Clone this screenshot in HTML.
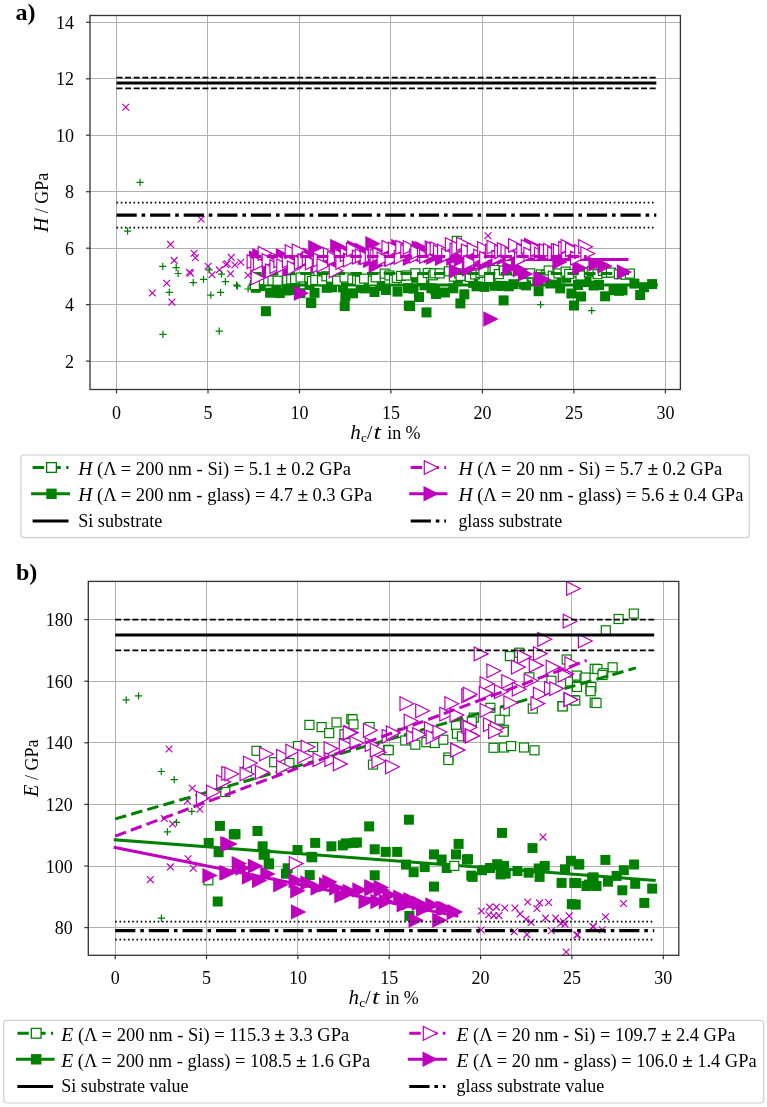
<!DOCTYPE html><html><head><meta charset="utf-8"><style>html,body{margin:0;padding:0;background:#fff;}svg{display:block;will-change:transform;}</style></head><body><svg width="767" height="1107" viewBox="0 0 767 1107" font-family="'Liberation Serif', serif" font-size="18" fill="#000">
<defs>
<path id="mx" d="M-3.4-3.4L3.4 3.4M-3.4 3.4L3.4-3.4" stroke="#bf00bf" stroke-width="1.2" fill="none"/>
<path id="mp" d="M-3.6 0H3.6M0-3.6V3.6" stroke="#008000" stroke-width="1.2" fill="none"/>
<rect id="go" x="-4.5" y="-4.5" width="9" height="9" fill="#fff" stroke="#008000" stroke-width="1.2"/>
<rect id="gf" x="-5" y="-5" width="10" height="10" fill="#008000"/>
<path id="mo" d="M6.9 0L-6.9-6.9V6.9Z" fill="#fff" stroke="#bf00bf" stroke-width="1.2" stroke-linejoin="miter"/>
<path id="mf" d="M7.7 0L-7.7-7.7V7.7Z" fill="#bf00bf"/>
</defs>
<rect width="767" height="1107" fill="#fff"/>
<line x1="116.5" y1="15.5" x2="116.5" y2="389.5" stroke="#b0b0b0" stroke-width="1"/>
<line x1="207.5" y1="15.5" x2="207.5" y2="389.5" stroke="#b0b0b0" stroke-width="1"/>
<line x1="299.5" y1="15.5" x2="299.5" y2="389.5" stroke="#b0b0b0" stroke-width="1"/>
<line x1="390.5" y1="15.5" x2="390.5" y2="389.5" stroke="#b0b0b0" stroke-width="1"/>
<line x1="482.5" y1="15.5" x2="482.5" y2="389.5" stroke="#b0b0b0" stroke-width="1"/>
<line x1="573.5" y1="15.5" x2="573.5" y2="389.5" stroke="#b0b0b0" stroke-width="1"/>
<line x1="665.5" y1="15.5" x2="665.5" y2="389.5" stroke="#b0b0b0" stroke-width="1"/>
<line x1="90" y1="361.5" x2="680.4" y2="361.5" stroke="#b0b0b0" stroke-width="1"/>
<line x1="90" y1="304.5" x2="680.4" y2="304.5" stroke="#b0b0b0" stroke-width="1"/>
<line x1="90" y1="248.5" x2="680.4" y2="248.5" stroke="#b0b0b0" stroke-width="1"/>
<line x1="90" y1="191.5" x2="680.4" y2="191.5" stroke="#b0b0b0" stroke-width="1"/>
<line x1="90" y1="135.5" x2="680.4" y2="135.5" stroke="#b0b0b0" stroke-width="1"/>
<line x1="90" y1="78.5" x2="680.4" y2="78.5" stroke="#b0b0b0" stroke-width="1"/>
<line x1="90" y1="22.5" x2="680.4" y2="22.5" stroke="#b0b0b0" stroke-width="1"/>
<use href="#mx" x="125.7" y="107.2"/>
<use href="#mx" x="201.1" y="219.2"/>
<use href="#mx" x="170.6" y="244.4"/>
<use href="#mx" x="194.1" y="253.3"/>
<use href="#mx" x="195.4" y="257.8"/>
<use href="#mx" x="174.2" y="260.4"/>
<use href="#mx" x="189.5" y="272.2"/>
<use href="#mx" x="190.5" y="273.2"/>
<use href="#mx" x="166.7" y="283.2"/>
<use href="#mx" x="152.4" y="293"/>
<use href="#mx" x="171.9" y="302.1"/>
<use href="#mx" x="208.1" y="266.3"/>
<use href="#mx" x="212" y="274.8"/>
<use href="#mx" x="219.3" y="269.9"/>
<use href="#mx" x="225.8" y="264.7"/>
<use href="#mx" x="231.3" y="257.4"/>
<use href="#mx" x="230.6" y="273.7"/>
<use href="#mx" x="234.9" y="265"/>
<use href="#mx" x="240.8" y="262.3"/>
<use href="#mx" x="227.2" y="263.7"/>
<use href="#mx" x="248" y="275.2"/>
<use href="#mx" x="252.3" y="255.8"/>
<use href="#mx" x="488" y="235.7"/>
<use href="#mp" x="140.1" y="182.3"/>
<use href="#mp" x="127.6" y="231.2"/>
<use href="#mp" x="162.8" y="266.3"/>
<use href="#mp" x="176.2" y="267.6"/>
<use href="#mp" x="178.1" y="273.5"/>
<use href="#mp" x="169.3" y="292.4"/>
<use href="#mp" x="193.2" y="282.6"/>
<use href="#mp" x="203.5" y="279.3"/>
<use href="#mp" x="209.1" y="269.9"/>
<use href="#mp" x="210.8" y="295.2"/>
<use href="#mp" x="220.6" y="292.4"/>
<use href="#mp" x="221.5" y="274.1"/>
<use href="#mp" x="225.4" y="281.7"/>
<use href="#mp" x="236.5" y="285.2"/>
<use href="#mp" x="237.5" y="286.2"/>
<use href="#mp" x="248.1" y="289"/>
<use href="#mp" x="162.9" y="334.3"/>
<use href="#mp" x="219.2" y="331.2"/>
<use href="#mp" x="540.6" y="304.7"/>
<use href="#mp" x="591.7" y="310.7"/>
<use href="#mp" x="252" y="288"/>
<use href="#gf" x="255.8" y="287.8"/>
<use href="#gf" x="260.7" y="286.1"/>
<use href="#gf" x="270.1" y="292.7"/>
<use href="#gf" x="276.4" y="290.2"/>
<use href="#gf" x="279.8" y="293.1"/>
<use href="#gf" x="286.6" y="290.5"/>
<use href="#gf" x="295.2" y="290"/>
<use href="#gf" x="300.4" y="293.2"/>
<use href="#gf" x="309.5" y="284.9"/>
<use href="#gf" x="314.5" y="292.8"/>
<use href="#gf" x="324.7" y="281.4"/>
<use href="#gf" x="326.7" y="287.8"/>
<use href="#gf" x="332.2" y="287.3"/>
<use href="#gf" x="343" y="287.4"/>
<use href="#gf" x="345.4" y="296.1"/>
<use href="#gf" x="353.1" y="293.3"/>
<use href="#gf" x="360.7" y="287.9"/>
<use href="#gf" x="364.9" y="288.4"/>
<use href="#gf" x="374.5" y="292"/>
<use href="#gf" x="380.3" y="286"/>
<use href="#gf" x="385.9" y="290"/>
<use href="#gf" x="394" y="278.6"/>
<use href="#gf" x="397.5" y="291.6"/>
<use href="#gf" x="408" y="288.2"/>
<use href="#gf" x="413.5" y="288.6"/>
<use href="#gf" x="416.1" y="277.8"/>
<use href="#gf" x="424.5" y="285.3"/>
<use href="#gf" x="431.4" y="288.2"/>
<use href="#gf" x="434.9" y="289.4"/>
<use href="#gf" x="444.9" y="292.5"/>
<use href="#gf" x="453.3" y="288.3"/>
<use href="#gf" x="457.9" y="278.6"/>
<use href="#gf" x="464.3" y="294.3"/>
<use href="#gf" x="473.1" y="282.9"/>
<use href="#gf" x="476.5" y="286.3"/>
<use href="#gf" x="484.5" y="286.9"/>
<use href="#gf" x="490.6" y="277.8"/>
<use href="#gf" x="494.7" y="285.8"/>
<use href="#gf" x="501.8" y="285.9"/>
<use href="#gf" x="508.8" y="286.3"/>
<use href="#gf" x="513.3" y="284.2"/>
<use href="#gf" x="523.7" y="284.3"/>
<use href="#gf" x="526" y="285.4"/>
<use href="#gf" x="537.3" y="280.7"/>
<use href="#gf" x="538.6" y="291.2"/>
<use href="#gf" x="550.3" y="283.5"/>
<use href="#gf" x="556.3" y="282.9"/>
<use href="#gf" x="560.2" y="288.4"/>
<use href="#gf" x="566.3" y="277.8"/>
<use href="#gf" x="571.4" y="293.5"/>
<use href="#gf" x="578" y="285"/>
<use href="#gf" x="586.5" y="282"/>
<use href="#gf" x="593.6" y="285.5"/>
<use href="#gf" x="599" y="285"/>
<use href="#gf" x="605.1" y="296.3"/>
<use href="#gf" x="613.6" y="290.2"/>
<use href="#gf" x="619" y="290.8"/>
<use href="#gf" x="622.5" y="290.3"/>
<use href="#gf" x="634.4" y="283.6"/>
<use href="#gf" x="640.2" y="295"/>
<use href="#gf" x="644" y="287.2"/>
<use href="#gf" x="652.1" y="284.1"/>
<use href="#gf" x="265.9" y="311.2"/>
<use href="#gf" x="310.9" y="302.6"/>
<use href="#gf" x="344.7" y="306.1"/>
<use href="#gf" x="410.1" y="306.1"/>
<use href="#gf" x="426.5" y="312.4"/>
<use href="#gf" x="460.4" y="303.4"/>
<use href="#gf" x="503.6" y="300.4"/>
<use href="#gf" x="574" y="305.5"/>
<use href="#gf" x="581" y="296.5"/>
<use href="#gf" x="311.3" y="303"/>
<use href="#gf" x="408.8" y="305.6"/>
<use href="#gf" x="436" y="294"/>
<use href="#gf" x="419" y="297"/>
<line x1="250.1" y1="284.9" x2="656.3" y2="284.9" stroke="#008000" stroke-width="3" stroke-linecap="square"/>
<use href="#go" x="255.9" y="279.4"/>
<use href="#go" x="261.8" y="280"/>
<use href="#go" x="268.2" y="280.5"/>
<use href="#go" x="272.5" y="280.5"/>
<use href="#go" x="277.6" y="280.7"/>
<use href="#go" x="287.2" y="280"/>
<use href="#go" x="291.2" y="279.4"/>
<use href="#go" x="295.1" y="279.1"/>
<use href="#go" x="300.6" y="277.5"/>
<use href="#go" x="309.4" y="277.5"/>
<use href="#go" x="311.9" y="281"/>
<use href="#go" x="315.3" y="280"/>
<use href="#go" x="322" y="280.4"/>
<use href="#go" x="326.4" y="276.3"/>
<use href="#go" x="331.1" y="277.7"/>
<use href="#go" x="337.1" y="280.7"/>
<use href="#go" x="344.6" y="277.5"/>
<use href="#go" x="352.4" y="279.4"/>
<use href="#go" x="357.1" y="280.1"/>
<use href="#go" x="359.8" y="280.8"/>
<use href="#go" x="364.1" y="278.6"/>
<use href="#go" x="372.8" y="280.6"/>
<use href="#go" x="375.8" y="277.3"/>
<use href="#go" x="384.7" y="273.6"/>
<use href="#go" x="389.4" y="275.5"/>
<use href="#go" x="394.1" y="279.7"/>
<use href="#go" x="396.8" y="277.9"/>
<use href="#go" x="401.1" y="275.9"/>
<use href="#go" x="406.5" y="275.5"/>
<use href="#go" x="415.4" y="273.3"/>
<use href="#go" x="422.2" y="279"/>
<use href="#go" x="427.8" y="273"/>
<use href="#go" x="433" y="275.3"/>
<use href="#go" x="434.5" y="273.3"/>
<use href="#go" x="439.7" y="273.4"/>
<use href="#go" x="448.9" y="271.3"/>
<use href="#go" x="453.9" y="276.6"/>
<use href="#go" x="459.1" y="273.3"/>
<use href="#go" x="460.6" y="275.9"/>
<use href="#go" x="469.8" y="277"/>
<use href="#go" x="475" y="274.4"/>
<use href="#go" x="480.6" y="272.9"/>
<use href="#go" x="483.5" y="271.4"/>
<use href="#go" x="489.2" y="278"/>
<use href="#go" x="494.6" y="270"/>
<use href="#go" x="498.8" y="274.1"/>
<use href="#go" x="503.9" y="270.5"/>
<use href="#go" x="513" y="269.5"/>
<use href="#go" x="514.8" y="270.5"/>
<use href="#go" x="522.9" y="277.9"/>
<use href="#go" x="526.7" y="274"/>
<use href="#go" x="530.2" y="273.3"/>
<use href="#go" x="540.8" y="274.4"/>
<use href="#go" x="546" y="275"/>
<use href="#go" x="548.7" y="270.5"/>
<use href="#go" x="552.8" y="275.7"/>
<use href="#go" x="558.4" y="273.4"/>
<use href="#go" x="565.6" y="271.6"/>
<use href="#go" x="569.2" y="273.9"/>
<use href="#go" x="578.1" y="272.5"/>
<use href="#go" x="580.5" y="275.5"/>
<use href="#go" x="588.9" y="272.3"/>
<use href="#go" x="591.7" y="271"/>
<use href="#go" x="597.6" y="274.2"/>
<use href="#go" x="603" y="270.9"/>
<use href="#go" x="606.5" y="272.8"/>
<use href="#go" x="610.9" y="272.6"/>
<use href="#go" x="618.9" y="274.2"/>
<use href="#go" x="625.6" y="274.7"/>
<use href="#go" x="629.9" y="273.6"/>
<use href="#go" x="456.8" y="240.9"/>
<use href="#go" x="254.9" y="285.1"/>
<line x1="250.1" y1="273.6" x2="632.5" y2="273.6" stroke="#008000" stroke-width="3" stroke-linecap="butt" stroke-dasharray="11.5 5.2"/>
<use href="#mf" x="256.7" y="257.9"/>
<use href="#mf" x="259.9" y="255.7"/>
<use href="#mf" x="261.8" y="256.7"/>
<use href="#mf" x="269.5" y="272.4"/>
<use href="#mf" x="274.9" y="260.5"/>
<use href="#mf" x="278.7" y="264.2"/>
<use href="#mf" x="283.5" y="255.7"/>
<use href="#mf" x="289.9" y="269.1"/>
<use href="#mf" x="293.6" y="253.3"/>
<use href="#mf" x="299" y="264.8"/>
<use href="#mf" x="301.6" y="256.4"/>
<use href="#mf" x="307.1" y="258.5"/>
<use href="#mf" x="310.7" y="255.2"/>
<use href="#mf" x="318.1" y="264.7"/>
<use href="#mf" x="323" y="261"/>
<use href="#mf" x="324.8" y="264.1"/>
<use href="#mf" x="333.5" y="257.8"/>
<use href="#mf" x="337.1" y="264.2"/>
<use href="#mf" x="342.5" y="248.8"/>
<use href="#mf" x="345.4" y="253.4"/>
<use href="#mf" x="349.4" y="257.8"/>
<use href="#mf" x="354.9" y="247.6"/>
<use href="#mf" x="362.4" y="250.1"/>
<use href="#mf" x="365.5" y="257.6"/>
<use href="#mf" x="370.8" y="260.5"/>
<use href="#mf" x="376.3" y="265.5"/>
<use href="#mf" x="381.3" y="253.8"/>
<use href="#mf" x="384.3" y="255.1"/>
<use href="#mf" x="391.5" y="259.1"/>
<use href="#mf" x="392.8" y="249.7"/>
<use href="#mf" x="397.9" y="257.6"/>
<use href="#mf" x="405.9" y="248.3"/>
<use href="#mf" x="410.6" y="258.4"/>
<use href="#mf" x="414.5" y="250.1"/>
<use href="#mf" x="419.3" y="248"/>
<use href="#mf" x="422.9" y="248.7"/>
<use href="#mf" x="431.5" y="255.9"/>
<use href="#mf" x="433.9" y="257.3"/>
<use href="#mf" x="440.5" y="250.9"/>
<use href="#mf" x="442.7" y="258.2"/>
<use href="#mf" x="447.2" y="253.4"/>
<use href="#mf" x="453.9" y="258.4"/>
<use href="#mf" x="456.6" y="271"/>
<use href="#mf" x="461.4" y="259.3"/>
<use href="#mf" x="469.6" y="269.1"/>
<use href="#mf" x="473.9" y="258"/>
<use href="#mf" x="476.5" y="252.2"/>
<use href="#mf" x="480.3" y="261.3"/>
<use href="#mf" x="485.1" y="263.6"/>
<use href="#mf" x="491.4" y="257.2"/>
<use href="#mf" x="495.5" y="260.3"/>
<use href="#mf" x="503.7" y="253.6"/>
<use href="#mf" x="504.5" y="257.6"/>
<use href="#mf" x="510" y="268.5"/>
<use href="#mf" x="518.7" y="260.6"/>
<use href="#mf" x="520.5" y="269.7"/>
<use href="#mf" x="525.8" y="274.1"/>
<use href="#mf" x="531.7" y="245.1"/>
<use href="#mf" x="301.5" y="293.3"/>
<use href="#mf" x="491" y="319"/>
<use href="#mf" x="315.9" y="247.5"/>
<use href="#mf" x="337.9" y="246.5"/>
<use href="#mf" x="373" y="243.7"/>
<use href="#mf" x="398.9" y="246.5"/>
<use href="#mf" x="541" y="279"/>
<use href="#mf" x="596" y="264"/>
<use href="#mf" x="605" y="266"/>
<use href="#mf" x="624.5" y="272"/>
<use href="#mf" x="543.7" y="279.5"/>
<use href="#mf" x="560" y="262"/>
<use href="#mf" x="580" y="268"/>
<line x1="250.1" y1="259.5" x2="627" y2="259.5" stroke="#bf00bf" stroke-width="3" stroke-linecap="square"/>
<use href="#mo" x="254" y="261.7"/>
<use href="#mo" x="257.8" y="264.2"/>
<use href="#mo" x="260.4" y="263.2"/>
<use href="#mo" x="265.1" y="253.4"/>
<use href="#mo" x="269.1" y="260.6"/>
<use href="#mo" x="272.4" y="270.8"/>
<use href="#mo" x="276.8" y="266.6"/>
<use href="#mo" x="280.8" y="260.8"/>
<use href="#mo" x="283.7" y="265.8"/>
<use href="#mo" x="289.3" y="261.2"/>
<use href="#mo" x="292.1" y="251.7"/>
<use href="#mo" x="294.2" y="267.8"/>
<use href="#mo" x="299.1" y="250.9"/>
<use href="#mo" x="301.3" y="262.6"/>
<use href="#mo" x="305" y="260.9"/>
<use href="#mo" x="309.2" y="258.3"/>
<use href="#mo" x="312.3" y="262.9"/>
<use href="#mo" x="319.2" y="265.8"/>
<use href="#mo" x="320.2" y="259.9"/>
<use href="#mo" x="323.9" y="265.1"/>
<use href="#mo" x="330.4" y="254.6"/>
<use href="#mo" x="334.5" y="258.3"/>
<use href="#mo" x="336.1" y="270.8"/>
<use href="#mo" x="341.5" y="256.1"/>
<use href="#mo" x="342.8" y="262.5"/>
<use href="#mo" x="347.2" y="254.6"/>
<use href="#mo" x="350.4" y="260"/>
<use href="#mo" x="353.5" y="249.7"/>
<use href="#mo" x="359.3" y="257.2"/>
<use href="#mo" x="362.2" y="255.9"/>
<use href="#mo" x="367.1" y="257.7"/>
<use href="#mo" x="372.2" y="255.9"/>
<use href="#mo" x="375.2" y="253.3"/>
<use href="#mo" x="377" y="255.9"/>
<use href="#mo" x="379.9" y="254.6"/>
<use href="#mo" x="384" y="258.9"/>
<use href="#mo" x="388.9" y="247.3"/>
<use href="#mo" x="392" y="259.4"/>
<use href="#mo" x="395.4" y="249.1"/>
<use href="#mo" x="401.2" y="257.3"/>
<use href="#mo" x="402.7" y="247.3"/>
<use href="#mo" x="407.7" y="251.3"/>
<use href="#mo" x="410.1" y="247.5"/>
<use href="#mo" x="416.6" y="256.1"/>
<use href="#mo" x="417.7" y="252.4"/>
<use href="#mo" x="424.4" y="254.6"/>
<use href="#mo" x="426.6" y="256.4"/>
<use href="#mo" x="432.1" y="247.8"/>
<use href="#mo" x="433.4" y="248.8"/>
<use href="#mo" x="437.1" y="248.5"/>
<use href="#mo" x="440.4" y="251.8"/>
<use href="#mo" x="444.5" y="251.1"/>
<use href="#mo" x="448.6" y="255"/>
<use href="#mo" x="452.3" y="244.5"/>
<use href="#mo" x="456.9" y="250"/>
<use href="#mo" x="458.8" y="247.9"/>
<use href="#mo" x="463.5" y="244"/>
<use href="#mo" x="468.3" y="250.8"/>
<use href="#mo" x="470.7" y="262.5"/>
<use href="#mo" x="474.2" y="249.5"/>
<use href="#mo" x="480.6" y="256.2"/>
<use href="#mo" x="484.5" y="248.7"/>
<use href="#mo" x="486.6" y="258.3"/>
<use href="#mo" x="492.5" y="251.2"/>
<use href="#mo" x="493.9" y="247.2"/>
<use href="#mo" x="498.8" y="257.4"/>
<use href="#mo" x="501.6" y="251.8"/>
<use href="#mo" x="504.4" y="249.5"/>
<use href="#mo" x="507.9" y="251"/>
<use href="#mo" x="512" y="254.4"/>
<use href="#mo" x="515.5" y="245.5"/>
<use href="#mo" x="521.4" y="258.8"/>
<use href="#mo" x="523.7" y="250.5"/>
<use href="#mo" x="528.2" y="246.6"/>
<use href="#mo" x="530.8" y="254.2"/>
<use href="#mo" x="537.6" y="249.3"/>
<use href="#mo" x="541.4" y="254"/>
<use href="#mo" x="545.1" y="251.6"/>
<use href="#mo" x="546.4" y="250.6"/>
<use href="#mo" x="550.4" y="250.3"/>
<use href="#mo" x="554.6" y="253.6"/>
<use href="#mo" x="558.4" y="250.5"/>
<use href="#mo" x="560.3" y="250.6"/>
<use href="#mo" x="565.6" y="248.3"/>
<use href="#mo" x="568" y="246.3"/>
<use href="#mo" x="572.5" y="249.7"/>
<use href="#mo" x="577.5" y="258.1"/>
<use href="#mo" x="581.6" y="251.7"/>
<use href="#mo" x="585.6" y="246.7"/>
<use href="#mo" x="587.8" y="253.5"/>
<use href="#mo" x="258" y="278"/>
<line x1="250.1" y1="256.6" x2="586.7" y2="256.6" stroke="#bf00bf" stroke-width="3" stroke-linecap="butt" stroke-dasharray="11.5 5.2"/>
<line x1="116.5" y1="77.6" x2="656.3" y2="77.6" stroke="#000" stroke-width="1.6" stroke-dasharray="6 2.6"/>
<line x1="116.5" y1="83" x2="656.3" y2="83" stroke="#000" stroke-width="3"/>
<line x1="116.5" y1="88.4" x2="656.3" y2="88.4" stroke="#000" stroke-width="1.6" stroke-dasharray="6 2.6"/>
<line x1="116.5" y1="202.7" x2="656.3" y2="202.7" stroke="#000" stroke-width="1.7" stroke-dasharray="1.6 2.65"/>
<line x1="116.5" y1="215.1" x2="656.3" y2="215.1" stroke="#000" stroke-width="3.2" stroke-dasharray="20.2 4.9 3.6 4.9"/>
<line x1="116.5" y1="227.6" x2="656.3" y2="227.6" stroke="#000" stroke-width="1.7" stroke-dasharray="1.6 2.65"/>
<rect x="90" y="15.5" width="590.4" height="374" fill="none" stroke="#333" stroke-width="1.3"/>
<line x1="116.5" y1="389.5" x2="116.5" y2="393.5" stroke="#333" stroke-width="1.2"/>
<text x="116.5" y="418.6" text-anchor="middle">0</text>
<line x1="208" y1="389.5" x2="208" y2="393.5" stroke="#333" stroke-width="1.2"/>
<text x="208" y="418.6" text-anchor="middle">5</text>
<line x1="299.5" y1="389.5" x2="299.5" y2="393.5" stroke="#333" stroke-width="1.2"/>
<text x="299.5" y="418.6" text-anchor="middle">10</text>
<line x1="390.9" y1="389.5" x2="390.9" y2="393.5" stroke="#333" stroke-width="1.2"/>
<text x="390.9" y="418.6" text-anchor="middle">15</text>
<line x1="482.4" y1="389.5" x2="482.4" y2="393.5" stroke="#333" stroke-width="1.2"/>
<text x="482.4" y="418.6" text-anchor="middle">20</text>
<line x1="573.9" y1="389.5" x2="573.9" y2="393.5" stroke="#333" stroke-width="1.2"/>
<text x="573.9" y="418.6" text-anchor="middle">25</text>
<line x1="665.4" y1="389.5" x2="665.4" y2="393.5" stroke="#333" stroke-width="1.2"/>
<text x="665.4" y="418.6" text-anchor="middle">30</text>
<line x1="86" y1="361.1" x2="90" y2="361.1" stroke="#333" stroke-width="1.2"/>
<text x="74" y="367.7" text-anchor="end">2</text>
<line x1="86" y1="304.6" x2="90" y2="304.6" stroke="#333" stroke-width="1.2"/>
<text x="74" y="311.2" text-anchor="end">4</text>
<line x1="86" y1="248.2" x2="90" y2="248.2" stroke="#333" stroke-width="1.2"/>
<text x="74" y="254.8" text-anchor="end">6</text>
<line x1="86" y1="191.7" x2="90" y2="191.7" stroke="#333" stroke-width="1.2"/>
<text x="74" y="198.3" text-anchor="end">8</text>
<line x1="86" y1="135.2" x2="90" y2="135.2" stroke="#333" stroke-width="1.2"/>
<text x="74" y="141.8" text-anchor="end">10</text>
<line x1="86" y1="78.8" x2="90" y2="78.8" stroke="#333" stroke-width="1.2"/>
<text x="74" y="85.4" text-anchor="end">12</text>
<line x1="86" y1="22.3" x2="90" y2="22.3" stroke="#333" stroke-width="1.2"/>
<text x="74" y="28.9" text-anchor="end">14</text>
<text transform="translate(48.3,202.5) rotate(-90)" text-anchor="middle"><tspan font-style="italic" font-size="20.3">H</tspan> / GPa</text>
<text y="438.8"><tspan x="350.3" font-style="italic" font-size="21">h</tspan><tspan x="361" y="441.6" font-size="13.5">c</tspan><tspan x="367" y="438.8" font-size="19.5">/</tspan><tspan x="387.2">in</tspan><tspan x="405.5">%</tspan></text>
<text transform="translate(373.6,438.8) scale(1.3,1)" font-style="italic" font-size="20.5">t</text>
<line x1="115.5" y1="581.4" x2="115.5" y2="955.3" stroke="#b0b0b0" stroke-width="1"/>
<line x1="206.5" y1="581.4" x2="206.5" y2="955.3" stroke="#b0b0b0" stroke-width="1"/>
<line x1="297.5" y1="581.4" x2="297.5" y2="955.3" stroke="#b0b0b0" stroke-width="1"/>
<line x1="389.5" y1="581.4" x2="389.5" y2="955.3" stroke="#b0b0b0" stroke-width="1"/>
<line x1="480.5" y1="581.4" x2="480.5" y2="955.3" stroke="#b0b0b0" stroke-width="1"/>
<line x1="571.5" y1="581.4" x2="571.5" y2="955.3" stroke="#b0b0b0" stroke-width="1"/>
<line x1="663.5" y1="581.4" x2="663.5" y2="955.3" stroke="#b0b0b0" stroke-width="1"/>
<line x1="88.3" y1="927.5" x2="678.8" y2="927.5" stroke="#b0b0b0" stroke-width="1"/>
<line x1="88.3" y1="866.5" x2="678.8" y2="866.5" stroke="#b0b0b0" stroke-width="1"/>
<line x1="88.3" y1="804.5" x2="678.8" y2="804.5" stroke="#b0b0b0" stroke-width="1"/>
<line x1="88.3" y1="742.5" x2="678.8" y2="742.5" stroke="#b0b0b0" stroke-width="1"/>
<line x1="88.3" y1="681.5" x2="678.8" y2="681.5" stroke="#b0b0b0" stroke-width="1"/>
<line x1="88.3" y1="619.5" x2="678.8" y2="619.5" stroke="#b0b0b0" stroke-width="1"/>
<use href="#mx" x="169.1" y="749"/>
<use href="#mx" x="192.3" y="788.3"/>
<use href="#mx" x="187.5" y="801"/>
<use href="#mx" x="199.9" y="809.2"/>
<use href="#mx" x="164.3" y="818.5"/>
<use href="#mx" x="172.6" y="824"/>
<use href="#mx" x="188.1" y="858.8"/>
<use href="#mx" x="170.4" y="866.9"/>
<use href="#mx" x="193.3" y="868.3"/>
<use href="#mx" x="150.4" y="879.6"/>
<use href="#mx" x="543" y="837.1"/>
<use href="#mx" x="481.4" y="911"/>
<use href="#mx" x="489.6" y="907.1"/>
<use href="#mx" x="496.4" y="907.1"/>
<use href="#mx" x="504.8" y="908"/>
<use href="#mx" x="488.7" y="914.7"/>
<use href="#mx" x="493.8" y="915.6"/>
<use href="#mx" x="498.9" y="915.6"/>
<use href="#mx" x="515" y="908"/>
<use href="#mx" x="520.1" y="913.9"/>
<use href="#mx" x="527.7" y="902"/>
<use href="#mx" x="526" y="919.3"/>
<use href="#mx" x="531.1" y="922.4"/>
<use href="#mx" x="537" y="908.5"/>
<use href="#mx" x="539.6" y="902.9"/>
<use href="#mx" x="548.6" y="902.5"/>
<use href="#mx" x="545.5" y="918.1"/>
<use href="#mx" x="555.7" y="918.1"/>
<use href="#mx" x="560.8" y="923.2"/>
<use href="#mx" x="563.3" y="921.5"/>
<use href="#mx" x="565" y="924.1"/>
<use href="#mx" x="569.2" y="915.9"/>
<use href="#mx" x="481.1" y="930"/>
<use href="#mx" x="514.2" y="931.7"/>
<use href="#mx" x="526.9" y="934.6"/>
<use href="#mx" x="551.4" y="930.8"/>
<use href="#mx" x="576.9" y="935.1"/>
<use href="#mx" x="593" y="926.6"/>
<use href="#mx" x="566.2" y="952"/>
<use href="#mx" x="623.5" y="903.5"/>
<use href="#mx" x="605.5" y="916.8"/>
<use href="#mx" x="593.4" y="926.8"/>
<use href="#mx" x="602.2" y="929.7"/>
<use href="#mx" x="577.6" y="934.7"/>
<use href="#mp" x="126.2" y="699.8"/>
<use href="#mp" x="138.6" y="695.8"/>
<use href="#mp" x="161.3" y="771.5"/>
<use href="#mp" x="174.2" y="779.6"/>
<use href="#mp" x="191.8" y="811.3"/>
<use href="#mp" x="176.5" y="822.3"/>
<use href="#mp" x="167.4" y="831.8"/>
<use href="#mp" x="161.4" y="918.1"/>
<use href="#gf" x="219.9" y="825.9"/>
<use href="#gf" x="208.7" y="842.9"/>
<use href="#gf" x="218.6" y="852.2"/>
<use href="#gf" x="233.8" y="834.4"/>
<use href="#gf" x="217.7" y="901.5"/>
<use href="#gf" x="235.5" y="834.1"/>
<use href="#gf" x="257.5" y="831"/>
<use href="#gf" x="262.6" y="846.3"/>
<use href="#gf" x="263.6" y="854.7"/>
<use href="#gf" x="268.7" y="863.2"/>
<use href="#gf" x="297.5" y="850"/>
<use href="#gf" x="315.2" y="842.9"/>
<use href="#gf" x="312.3" y="857.3"/>
<use href="#gf" x="331.4" y="846.3"/>
<use href="#gf" x="342.8" y="845.4"/>
<use href="#gf" x="353.8" y="842.9"/>
<use href="#gf" x="287.7" y="868.3"/>
<use href="#gf" x="264.8" y="854.2"/>
<use href="#gf" x="269.1" y="864.4"/>
<use href="#gf" x="286" y="873.7"/>
<use href="#gf" x="309.7" y="875.1"/>
<use href="#gf" x="311.4" y="856.8"/>
<use href="#gf" x="369.2" y="826.4"/>
<use href="#gf" x="356.9" y="842.5"/>
<use href="#gf" x="345.8" y="843.4"/>
<use href="#gf" x="374.7" y="849.3"/>
<use href="#gf" x="385.7" y="851.9"/>
<use href="#gf" x="397.2" y="851.9"/>
<use href="#gf" x="408.9" y="819.7"/>
<use href="#gf" x="374.7" y="875.3"/>
<use href="#gf" x="406" y="864.6"/>
<use href="#gf" x="413.6" y="872.2"/>
<use href="#gf" x="424.7" y="867.1"/>
<use href="#gf" x="434" y="854.4"/>
<use href="#gf" x="434" y="886.6"/>
<use href="#gf" x="441.6" y="859.5"/>
<use href="#gf" x="446.7" y="868"/>
<use href="#gf" x="456" y="854.4"/>
<use href="#gf" x="458.6" y="843.9"/>
<use href="#gf" x="467" y="859.5"/>
<use href="#gf" x="471.3" y="875.6"/>
<use href="#gf" x="409.4" y="915.9"/>
<use href="#gf" x="502" y="832.9"/>
<use href="#gf" x="532.5" y="848.1"/>
<use href="#gf" x="468" y="859.2"/>
<use href="#gf" x="472.6" y="876.9"/>
<use href="#gf" x="482" y="870.2"/>
<use href="#gf" x="497.2" y="864.2"/>
<use href="#gf" x="504" y="865.9"/>
<use href="#gf" x="505.7" y="873.6"/>
<use href="#gf" x="500.6" y="874.4"/>
<use href="#gf" x="490" y="868"/>
<use href="#gf" x="517.5" y="871"/>
<use href="#gf" x="528.6" y="872.7"/>
<use href="#gf" x="538.7" y="868.5"/>
<use href="#gf" x="544.7" y="865.9"/>
<use href="#gf" x="539.6" y="876.9"/>
<use href="#gf" x="561.6" y="882.9"/>
<use href="#gf" x="565" y="869.3"/>
<use href="#gf" x="570.9" y="860.8"/>
<use href="#gf" x="574.3" y="882.9"/>
<use href="#gf" x="578.6" y="864.2"/>
<use href="#gf" x="588.7" y="884.6"/>
<use href="#gf" x="592.1" y="877.8"/>
<use href="#gf" x="571.8" y="904.1"/>
<use href="#gf" x="605.4" y="859.9"/>
<use href="#gf" x="634.1" y="864.5"/>
<use href="#gf" x="579.3" y="864.5"/>
<use href="#gf" x="576.4" y="883.1"/>
<use href="#gf" x="586.5" y="886"/>
<use href="#gf" x="596.5" y="886"/>
<use href="#gf" x="593.6" y="877.4"/>
<use href="#gf" x="608" y="881.7"/>
<use href="#gf" x="616.6" y="875.9"/>
<use href="#gf" x="623.8" y="870.2"/>
<use href="#gf" x="622.3" y="890.3"/>
<use href="#gf" x="635.2" y="883.8"/>
<use href="#gf" x="652.2" y="888.6"/>
<use href="#gf" x="644.3" y="902.9"/>
<use href="#gf" x="575.7" y="904.6"/>
<line x1="115.2" y1="839.8" x2="654.2" y2="880.3" stroke="#008000" stroke-width="3" stroke-linecap="square"/>
<use href="#go" x="225.3" y="792"/>
<use href="#go" x="208.4" y="880.3"/>
<use href="#go" x="309.4" y="724.9"/>
<use href="#go" x="321.6" y="727.1"/>
<use href="#go" x="336.5" y="722.4"/>
<use href="#go" x="329.2" y="733.1"/>
<use href="#go" x="351.3" y="719"/>
<use href="#go" x="344.5" y="734.2"/>
<use href="#go" x="256.5" y="750.8"/>
<use href="#go" x="297.9" y="746.1"/>
<use href="#go" x="274.2" y="762.2"/>
<use href="#go" x="247" y="771.5"/>
<use href="#go" x="313.1" y="747"/>
<use href="#go" x="289.4" y="763"/>
<use href="#go" x="352.6" y="719.3"/>
<use href="#go" x="353.5" y="724.4"/>
<use href="#go" x="369.6" y="727"/>
<use href="#go" x="388.2" y="749.8"/>
<use href="#go" x="402.6" y="732.9"/>
<use href="#go" x="405.2" y="740.5"/>
<use href="#go" x="415.3" y="744.7"/>
<use href="#go" x="426.4" y="742.2"/>
<use href="#go" x="434.8" y="743"/>
<use href="#go" x="443.3" y="739.7"/>
<use href="#go" x="456" y="725.3"/>
<use href="#go" x="456.9" y="733.7"/>
<use href="#go" x="461.9" y="736.3"/>
<use href="#go" x="448.4" y="757.5"/>
<use href="#go" x="473.8" y="717.6"/>
<use href="#go" x="509.9" y="656.1"/>
<use href="#go" x="519.2" y="652.7"/>
<use href="#go" x="566.7" y="659.5"/>
<use href="#go" x="529.4" y="677.3"/>
<use href="#go" x="551.4" y="680.7"/>
<use href="#go" x="570.1" y="681.5"/>
<use href="#go" x="576.9" y="675.6"/>
<use href="#go" x="576.9" y="685.8"/>
<use href="#go" x="584.5" y="679"/>
<use href="#go" x="590.4" y="689.2"/>
<use href="#go" x="594.7" y="668.8"/>
<use href="#go" x="594.7" y="702.7"/>
<use href="#go" x="532.8" y="708.6"/>
<use href="#go" x="562.5" y="706.1"/>
<use href="#go" x="574.3" y="700.2"/>
<use href="#go" x="490.4" y="707.8"/>
<use href="#go" x="504.8" y="711.2"/>
<use href="#go" x="499.7" y="719.7"/>
<use href="#go" x="504" y="729.8"/>
<use href="#go" x="471.8" y="721.4"/>
<use href="#go" x="633.8" y="613.6"/>
<use href="#go" x="618.6" y="619"/>
<use href="#go" x="605.8" y="630.3"/>
<use href="#go" x="597.4" y="669"/>
<use href="#go" x="612.6" y="667.3"/>
<use href="#go" x="585.5" y="677.5"/>
<use href="#go" x="603.3" y="673.2"/>
<use href="#go" x="577" y="687"/>
<use href="#go" x="591.4" y="687"/>
<use href="#go" x="590.6" y="691.2"/>
<use href="#go" x="596.5" y="703"/>
<use href="#go" x="575.3" y="700.5"/>
<use href="#go" x="562.6" y="706.4"/>
<use href="#go" x="602.5" y="675"/>
<use href="#go" x="493.5" y="747.8"/>
<use href="#go" x="504" y="747.5"/>
<use href="#go" x="511.1" y="746.1"/>
<use href="#go" x="524" y="747.5"/>
<use href="#go" x="534.5" y="750.3"/>
<use href="#go" x="503.6" y="731.7"/>
<use href="#go" x="373" y="764.6"/>
<use href="#go" x="388.7" y="750.2"/>
<use href="#go" x="448.4" y="760"/>
<use href="#go" x="454.3" y="865.9"/>
<line x1="115.2" y1="818.9" x2="635.9" y2="667.9" stroke="#008000" stroke-width="3" stroke-linecap="butt" stroke-dasharray="11.5 5.2"/>
<use href="#mf" x="227.9" y="843.7"/>
<use href="#mf" x="230.1" y="844.1"/>
<use href="#mf" x="210.1" y="875.6"/>
<use href="#mf" x="227" y="872.7"/>
<use href="#mf" x="239.4" y="863.6"/>
<use href="#mf" x="255.5" y="866.1"/>
<use href="#mf" x="228.4" y="872.9"/>
<use href="#mf" x="249.6" y="877.1"/>
<use href="#mf" x="259.7" y="880.5"/>
<use href="#mf" x="280.9" y="884.7"/>
<use href="#mf" x="296.2" y="880.5"/>
<use href="#mf" x="297.9" y="890.7"/>
<use href="#mf" x="308" y="883"/>
<use href="#mf" x="318.2" y="888.1"/>
<use href="#mf" x="326.7" y="884.7"/>
<use href="#mf" x="336.9" y="888.1"/>
<use href="#mf" x="342" y="895.8"/>
<use href="#mf" x="350.4" y="891.5"/>
<use href="#mf" x="298.7" y="911.9"/>
<use href="#mf" x="348.4" y="893"/>
<use href="#mf" x="366.2" y="901.5"/>
<use href="#mf" x="372.1" y="888.8"/>
<use href="#mf" x="381.4" y="889.7"/>
<use href="#mf" x="378.1" y="901.5"/>
<use href="#mf" x="386.5" y="901.5"/>
<use href="#mf" x="400.9" y="897.3"/>
<use href="#mf" x="404.3" y="904.9"/>
<use href="#mf" x="411.1" y="899.8"/>
<use href="#mf" x="419.6" y="903.2"/>
<use href="#mf" x="423.8" y="909.2"/>
<use href="#mf" x="416.2" y="920.2"/>
<use href="#mf" x="439.9" y="920.2"/>
<use href="#mf" x="443.3" y="908.3"/>
<use href="#mf" x="455.2" y="911.7"/>
<use href="#mf" x="372" y="886.6"/>
<use href="#mf" x="381.4" y="887.5"/>
<use href="#mf" x="409.6" y="903"/>
<use href="#mf" x="424.2" y="907.3"/>
<use href="#mf" x="446.1" y="908.4"/>
<use href="#mf" x="454.4" y="912.5"/>
<use href="#mf" x="433" y="905"/>
<use href="#mf" x="390" y="895"/>
<use href="#mf" x="360" y="890"/>
<use href="#mf" x="330" y="882"/>
<use href="#mf" x="268" y="874"/>
<use href="#mf" x="243" y="868"/>
<line x1="115.2" y1="847.5" x2="456.8" y2="916.1" stroke="#bf00bf" stroke-width="3" stroke-linecap="square"/>
<use href="#mo" x="203.3" y="798"/>
<use href="#mo" x="213.5" y="792"/>
<use href="#mo" x="223.6" y="781.9"/>
<use href="#mo" x="228.7" y="773.4"/>
<use href="#mo" x="296.2" y="863.6"/>
<use href="#mo" x="266.5" y="754"/>
<use href="#mo" x="250.4" y="763"/>
<use href="#mo" x="283.5" y="756.3"/>
<use href="#mo" x="292.8" y="751.2"/>
<use href="#mo" x="308" y="747"/>
<use href="#mo" x="304.7" y="756.3"/>
<use href="#mo" x="283.5" y="767.3"/>
<use href="#mo" x="262.3" y="772.4"/>
<use href="#mo" x="247" y="774"/>
<use href="#mo" x="231.8" y="774"/>
<use href="#mo" x="319.9" y="759.7"/>
<use href="#mo" x="331" y="748.6"/>
<use href="#mo" x="331.8" y="759.7"/>
<use href="#mo" x="340.3" y="763.9"/>
<use href="#mo" x="346.2" y="745.3"/>
<use href="#mo" x="351.3" y="732.5"/>
<use href="#mo" x="406.9" y="703.7"/>
<use href="#mo" x="422.6" y="710.8"/>
<use href="#mo" x="451.8" y="703.7"/>
<use href="#mo" x="468.7" y="695.9"/>
<use href="#mo" x="411.1" y="721"/>
<use href="#mo" x="446.7" y="714.2"/>
<use href="#mo" x="456.9" y="715.1"/>
<use href="#mo" x="468.7" y="726.1"/>
<use href="#mo" x="350.1" y="732.9"/>
<use href="#mo" x="370.4" y="730.3"/>
<use href="#mo" x="356.9" y="743"/>
<use href="#mo" x="372.1" y="744.7"/>
<use href="#mo" x="378.9" y="752.4"/>
<use href="#mo" x="389.1" y="736.3"/>
<use href="#mo" x="393.3" y="732.9"/>
<use href="#mo" x="413.6" y="737.1"/>
<use href="#mo" x="419.6" y="734.6"/>
<use href="#mo" x="431.4" y="728.6"/>
<use href="#mo" x="433.1" y="737.1"/>
<use href="#mo" x="439.9" y="732"/>
<use href="#mo" x="457.7" y="749.8"/>
<use href="#mo" x="470.4" y="734.6"/>
<use href="#mo" x="481.1" y="653.9"/>
<use href="#mo" x="493.8" y="670.8"/>
<use href="#mo" x="487" y="683.7"/>
<use href="#mo" x="508.7" y="681.5"/>
<use href="#mo" x="524.3" y="656.9"/>
<use href="#mo" x="518.4" y="667.1"/>
<use href="#mo" x="540.4" y="653.6"/>
<use href="#mo" x="536.2" y="665.4"/>
<use href="#mo" x="553.1" y="667.1"/>
<use href="#mo" x="566.7" y="673.9"/>
<use href="#mo" x="571.8" y="663.7"/>
<use href="#mo" x="544.7" y="639.3"/>
<use href="#mo" x="585.3" y="641"/>
<use href="#mo" x="470.1" y="694.2"/>
<use href="#mo" x="486.2" y="693.4"/>
<use href="#mo" x="501.4" y="691.7"/>
<use href="#mo" x="519.2" y="689.2"/>
<use href="#mo" x="531.1" y="680.7"/>
<use href="#mo" x="540.4" y="694.2"/>
<use href="#mo" x="551.4" y="688.3"/>
<use href="#mo" x="510.8" y="702.7"/>
<use href="#mo" x="487" y="710.3"/>
<use href="#mo" x="537.9" y="703.6"/>
<use href="#mo" x="570.9" y="699.3"/>
<use href="#mo" x="490.4" y="724.7"/>
<use href="#mo" x="497.2" y="728.1"/>
<use href="#mo" x="470.1" y="727.3"/>
<use href="#mo" x="471.8" y="735.8"/>
<use href="#mo" x="573.5" y="588.5"/>
<use href="#mo" x="570.1" y="621.2"/>
<use href="#mo" x="565.2" y="675.1"/>
<use href="#mo" x="556.7" y="688.6"/>
<use href="#mo" x="571.1" y="699.7"/>
<use href="#mo" x="472.6" y="735.9"/>
<use href="#mo" x="495.5" y="731.7"/>
<use href="#mo" x="378.9" y="761.2"/>
<use href="#mo" x="392.5" y="766.8"/>
<use href="#mo" x="457.7" y="750.2"/>
<use href="#mo" x="377.2" y="750.2"/>
<line x1="115.2" y1="836.1" x2="586.6" y2="660.5" stroke="#bf00bf" stroke-width="3" stroke-linecap="butt" stroke-dasharray="11.5 5.2"/>
<line x1="115.2" y1="619.6" x2="654.2" y2="619.6" stroke="#000" stroke-width="1.6" stroke-dasharray="6 2.6"/>
<line x1="115.2" y1="635" x2="654.2" y2="635" stroke="#000" stroke-width="3"/>
<line x1="115.2" y1="650.4" x2="654.2" y2="650.4" stroke="#000" stroke-width="1.6" stroke-dasharray="6 2.6"/>
<line x1="115.2" y1="921.7" x2="654.2" y2="921.7" stroke="#000" stroke-width="1.7" stroke-dasharray="1.6 2.65"/>
<line x1="115.2" y1="930.7" x2="654.2" y2="930.7" stroke="#000" stroke-width="3.2" stroke-dasharray="20.2 4.9 3.6 4.9"/>
<line x1="115.2" y1="939.6" x2="654.2" y2="939.6" stroke="#000" stroke-width="1.7" stroke-dasharray="1.6 2.65"/>
<rect x="88.3" y="581.4" width="590.5" height="373.9" fill="none" stroke="#333" stroke-width="1.3"/>
<line x1="115.2" y1="955.3" x2="115.2" y2="959.3" stroke="#333" stroke-width="1.2"/>
<text x="115.2" y="983.6" text-anchor="middle">0</text>
<line x1="206.5" y1="955.3" x2="206.5" y2="959.3" stroke="#333" stroke-width="1.2"/>
<text x="206.5" y="983.6" text-anchor="middle">5</text>
<line x1="297.9" y1="955.3" x2="297.9" y2="959.3" stroke="#333" stroke-width="1.2"/>
<text x="297.9" y="983.6" text-anchor="middle">10</text>
<line x1="389.2" y1="955.3" x2="389.2" y2="959.3" stroke="#333" stroke-width="1.2"/>
<text x="389.2" y="983.6" text-anchor="middle">15</text>
<line x1="480.6" y1="955.3" x2="480.6" y2="959.3" stroke="#333" stroke-width="1.2"/>
<text x="480.6" y="983.6" text-anchor="middle">20</text>
<line x1="571.9" y1="955.3" x2="571.9" y2="959.3" stroke="#333" stroke-width="1.2"/>
<text x="571.9" y="983.6" text-anchor="middle">25</text>
<line x1="663.3" y1="955.3" x2="663.3" y2="959.3" stroke="#333" stroke-width="1.2"/>
<text x="663.3" y="983.6" text-anchor="middle">30</text>
<line x1="84.3" y1="927.6" x2="88.3" y2="927.6" stroke="#333" stroke-width="1.2"/>
<text x="72.8" y="934.2" text-anchor="end">80</text>
<line x1="84.3" y1="866" x2="88.3" y2="866" stroke="#333" stroke-width="1.2"/>
<text x="72.8" y="872.6" text-anchor="end">100</text>
<line x1="84.3" y1="804.4" x2="88.3" y2="804.4" stroke="#333" stroke-width="1.2"/>
<text x="72.8" y="811" text-anchor="end">120</text>
<line x1="84.3" y1="742.8" x2="88.3" y2="742.8" stroke="#333" stroke-width="1.2"/>
<text x="72.8" y="749.4" text-anchor="end">140</text>
<line x1="84.3" y1="681.2" x2="88.3" y2="681.2" stroke="#333" stroke-width="1.2"/>
<text x="72.8" y="687.8" text-anchor="end">160</text>
<line x1="84.3" y1="619.6" x2="88.3" y2="619.6" stroke="#333" stroke-width="1.2"/>
<text x="72.8" y="626.2" text-anchor="end">180</text>
<text transform="translate(37.8,768.3) rotate(-90)" text-anchor="middle"><tspan font-style="italic" font-size="20.3">E</tspan> / GPa</text>
<text y="1003.8"><tspan x="348.6" font-style="italic" font-size="21">h</tspan><tspan x="359.3" y="1006.6" font-size="13.5">c</tspan><tspan x="365.3" y="1003.8" font-size="19.5">/</tspan><tspan x="385.5">in</tspan><tspan x="403.8">%</tspan></text>
<text transform="translate(371.9,1003.8) scale(1.3,1)" font-style="italic" font-size="20.5">t</text>
<text x="15.5" y="19.8" font-weight="bold" font-size="24">a)</text>
<text x="16" y="579.8" font-weight="bold" font-size="24">b)</text>
<rect x="20.9" y="455" width="728.4" height="82.6" rx="3" fill="#fff" fill-opacity="0.8" stroke="#d0d0d0" stroke-width="1.2"/>
<line x1="32.6" y1="467.5" x2="68.5" y2="467.5" stroke="#008000" stroke-width="3" stroke-linecap="butt" stroke-dasharray="11.4 5.4"/>
<use href="#go" transform="translate(51.5,467.5) scale(1.08)"/>
<line x1="410.7" y1="467.5" x2="446" y2="467.5" stroke="#bf00bf" stroke-width="3" stroke-linecap="butt" stroke-dasharray="11.4 5.4"/>
<use href="#mo" x="431.2" y="467.5"/>
<text x="78.2" y="475.2" font-size="18.4" textLength="272.9" lengthAdjust="spacingAndGlyphs"><tspan font-style="italic" font-size="19.5">H</tspan> (&#923; = 200 nm - Si) = 5.1 <tspan font-family="'Liberation Sans', sans-serif">&#177;</tspan> 0.2 GPa</text>
<text x="458.4" y="475.2" font-size="18.4" textLength="263.9" lengthAdjust="spacingAndGlyphs"><tspan font-style="italic" font-size="19.5">H</tspan> (&#923; = 20 nm - Si) = 5.7 <tspan font-family="'Liberation Sans', sans-serif">&#177;</tspan> 0.2 GPa</text>
<line x1="32.6" y1="493.8" x2="68.5" y2="493.8" stroke="#008000" stroke-width="3" stroke-linecap="square"/>
<use href="#gf" transform="translate(51.5,493.8) scale(1.04)"/>
<line x1="410.7" y1="493.8" x2="446" y2="493.8" stroke="#bf00bf" stroke-width="3" stroke-linecap="square"/>
<use href="#mf" x="431.2" y="493.8"/>
<text x="78.2" y="501.3" font-size="18.4" textLength="293.9" lengthAdjust="spacingAndGlyphs"><tspan font-style="italic" font-size="19.5">H</tspan> (&#923; = 200 nm - glass) = 4.7 <tspan font-family="'Liberation Sans', sans-serif">&#177;</tspan> 0.3 GPa</text>
<text x="458.4" y="501.3" font-size="18.4" textLength="285" lengthAdjust="spacingAndGlyphs"><tspan font-style="italic" font-size="19.5">H</tspan> (&#923; = 20 nm - glass) = 5.6 <tspan font-family="'Liberation Sans', sans-serif">&#177;</tspan> 0.4 GPa</text>
<line x1="32.6" y1="521" x2="68.5" y2="521" stroke="#000" stroke-width="3" stroke-linecap="butt"/>
<line x1="410.7" y1="521" x2="446" y2="521" stroke="#000" stroke-width="3.2" stroke-linecap="butt" stroke-dasharray="20.2 4.9 3.6 4.9"/>
<text x="78.2" y="527.4" font-size="18.4" textLength="84.2" lengthAdjust="spacingAndGlyphs">Si substrate</text>
<text x="458.4" y="527.4" font-size="18.4" textLength="103.9" lengthAdjust="spacingAndGlyphs">glass substrate</text>
<rect x="3.7" y="1020.4" width="760" height="82.6" rx="3" fill="#fff" fill-opacity="0.8" stroke="#d0d0d0" stroke-width="1.2"/>
<line x1="17.4" y1="1033.3" x2="53.1" y2="1033.3" stroke="#008000" stroke-width="3" stroke-linecap="butt" stroke-dasharray="11.4 5.4"/>
<use href="#go" transform="translate(36.2,1033.3) scale(1.08)"/>
<line x1="409.3" y1="1033.3" x2="445.4" y2="1033.3" stroke="#bf00bf" stroke-width="3" stroke-linecap="butt" stroke-dasharray="11.4 5.4"/>
<use href="#mo" x="430.2" y="1033.3"/>
<text x="61.3" y="1040.9" font-size="18.4" textLength="287.9" lengthAdjust="spacingAndGlyphs"><tspan font-style="italic" font-size="19.5">E</tspan> (&#923; = 200 nm - Si) = 115.3 <tspan font-family="'Liberation Sans', sans-serif">&#177;</tspan> 3.3 GPa</text>
<text x="456.5" y="1040.9" font-size="18.4" textLength="278.9" lengthAdjust="spacingAndGlyphs"><tspan font-style="italic" font-size="19.5">E</tspan> (&#923; = 20 nm - Si) = 109.7 <tspan font-family="'Liberation Sans', sans-serif">&#177;</tspan> 2.4 GPa</text>
<line x1="17.4" y1="1059.3" x2="53.1" y2="1059.3" stroke="#008000" stroke-width="3" stroke-linecap="square"/>
<use href="#gf" transform="translate(36.2,1059.3) scale(1.04)"/>
<line x1="409.3" y1="1059.3" x2="445.4" y2="1059.3" stroke="#bf00bf" stroke-width="3" stroke-linecap="square"/>
<use href="#mf" x="430.2" y="1059.3"/>
<text x="61.3" y="1066.8" font-size="18.4" textLength="308.9" lengthAdjust="spacingAndGlyphs"><tspan font-style="italic" font-size="19.5">E</tspan> (&#923; = 200 nm - glass) = 108.5 <tspan font-family="'Liberation Sans', sans-serif">&#177;</tspan> 1.6 GPa</text>
<text x="456.5" y="1066.8" font-size="18.4" textLength="300.1" lengthAdjust="spacingAndGlyphs"><tspan font-style="italic" font-size="19.5">E</tspan> (&#923; = 20 nm - glass) = 106.0 <tspan font-family="'Liberation Sans', sans-serif">&#177;</tspan> 1.4 GPa</text>
<line x1="17.4" y1="1086.5" x2="53.1" y2="1086.5" stroke="#000" stroke-width="3" stroke-linecap="butt"/>
<line x1="409.3" y1="1086.5" x2="445.4" y2="1086.5" stroke="#000" stroke-width="3.2" stroke-linecap="butt" stroke-dasharray="20.2 4.9 3.6 4.9"/>
<text x="61.3" y="1091.8" font-size="18.4" textLength="127.3" lengthAdjust="spacingAndGlyphs">Si substrate value</text>
<text x="456.5" y="1091.8" font-size="18.4" textLength="147.7" lengthAdjust="spacingAndGlyphs">glass substrate value</text>
</svg></body></html>
